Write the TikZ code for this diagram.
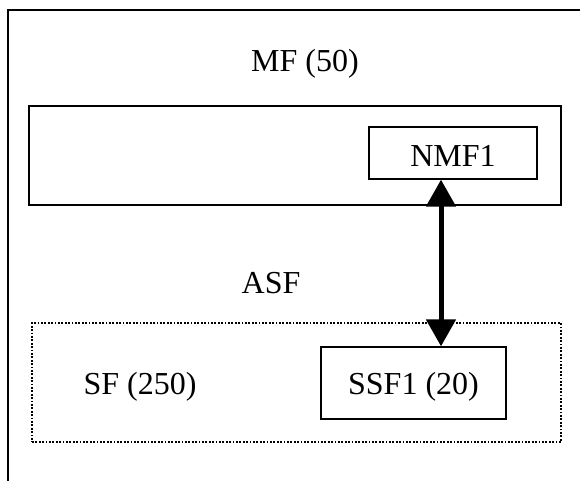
\documentclass[tikz,border=0pt]{standalone}
\usepackage{fontspec}
\setmainfont{Liberation Serif}
\usetikzlibrary{arrows.meta}
\begin{document}
\begin{tikzpicture}[x=1pt,y=-1pt,
  boxline/.style={draw=black,line width=1.3pt},
  dotline/.style={draw=black,line width=1.8pt,dash pattern=on 1.8pt off 1.6pt},
  lbl/.style={font=\fontsize{32}{38}\selectfont,anchor=base,inner sep=0pt},
  bigarrow/.style={line width=5pt,{Triangle[width=29pt,length=27pt]}-{Triangle[width=29pt,length=27pt]}}]
\useasboundingbox (0,0) rectangle (580,481);
% outer frame (only top and left edges visible)
\coordinate (otr) at (585,10);
\coordinate (otl) at (8,10);
\coordinate (obl) at (8,486);
\draw[boxline] (otr) -- (otl) -- (obl);
% MF box
\node[boxline,rectangle,inner sep=0pt,minimum width=532pt,minimum height=99pt] (mf) at (295,155.5) {};
\node[lbl] (mft) at (305,72) {MF (50)};
% NMF1 box
\node[boxline,rectangle,inner sep=0pt,minimum width=168pt,minimum height=52pt] (nmf) at (453,153) {};
\node[lbl] (nmft) at (453,167) {NMF1};
% ASF label
\node[lbl] (asf) at (271,293) {ASF};
% SF dotted box
\node[dotline,rectangle,inner sep=0pt,minimum width=529pt,minimum height=119pt] (sf) at (296.5,382.5) {};
\node[lbl] (sft) at (140,394) {SF (250)};
% SSF1 box
\node[boxline,rectangle,inner sep=0pt,minimum width=185pt,minimum height=72pt] (ssf) at (413.5,383) {};
\node[lbl] (ssft) at (413.5,394) {SSF1 (20)};
% double arrow
\coordinate (ax) at (441,0);
\draw[bigarrow] (ax |- nmf.south) -- (ax |- ssf.north);
\end{tikzpicture}
\end{document}
